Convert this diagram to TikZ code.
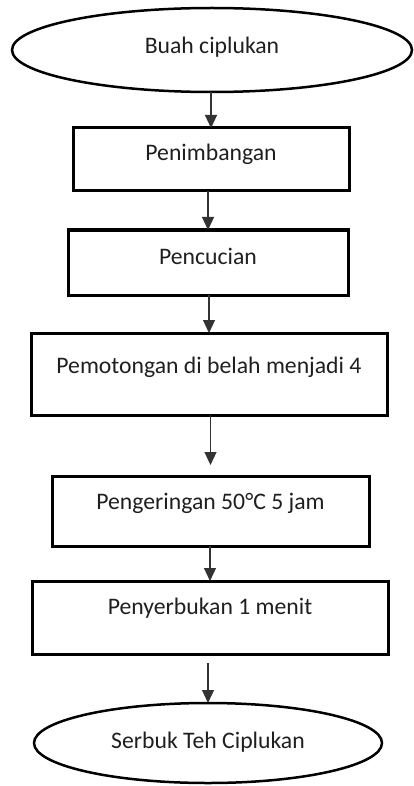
\documentclass[tikz,border=0pt]{standalone}
\usepackage{fontspec}
\setmainfont{Carlito}
\usetikzlibrary{shapes.geometric,arrows.meta}
\begin{document}
\begin{tikzpicture}[x=1pt,y=-1pt,
  txt/.style={font=\fontsize{23.7}{28}\selectfont, text=black!88},
  box/.style={txt, draw=black, line width=3pt, rectangle, inner sep=0pt, outer sep=0pt},
  oval/.style={txt, draw=black, line width=2.5pt, ellipse, inner sep=0pt, outer sep=0pt},
  flow/.style={draw=black!80, line width=1.2pt, -{Triangle[length=13pt,width=12pt]}}]
\useasboundingbox (0,0) rectangle (414,786);
\node[oval, minimum width=400, minimum height=84, text height=16, text depth=8] (e1) at (212,50) {Buah ciplukan};
\node[box, minimum width=276, text height=33, text depth=30] (b1) at (211,159.5) {Penimbangan};
\node[box, minimum width=280, text height=34, text depth=31] (b2) at (208,262.5) {Pencucian};
\node[box, minimum width=356, text height=40, text depth=42] (b3) at (209,374) {Pemotongan di belah menjadi 4};
\node[box, minimum width=317, text height=33, text depth=37] (b4) at (210.5,511) {Pengeringan 50°C 5 jam};
\node[box, minimum width=356, text height=33, text depth=40] (b5) at (210,617.5) {Penyerbukan 1 menit};
\node[oval, minimum width=348, minimum height=80, text height=16, text depth=6] (e2) at (208,743) {Serbuk Teh Ciplukan};
\draw[flow] (b1.north |- e1.south) -- (b1.north);
\draw[flow] (b2.north |- b1.south) -- (b2.north);
\draw[flow] (b3.north |- b2.south) -- (b3.north);
\draw[flow, shorten >=11pt] (b4.north |- b3.south) -- (b4.north);
\draw[flow] (b5.north |- b4.south) -- (b5.north);
\draw[flow, shorten <=9pt] (e2.north |- b5.south) -- (e2.north);
\end{tikzpicture}
\end{document}
